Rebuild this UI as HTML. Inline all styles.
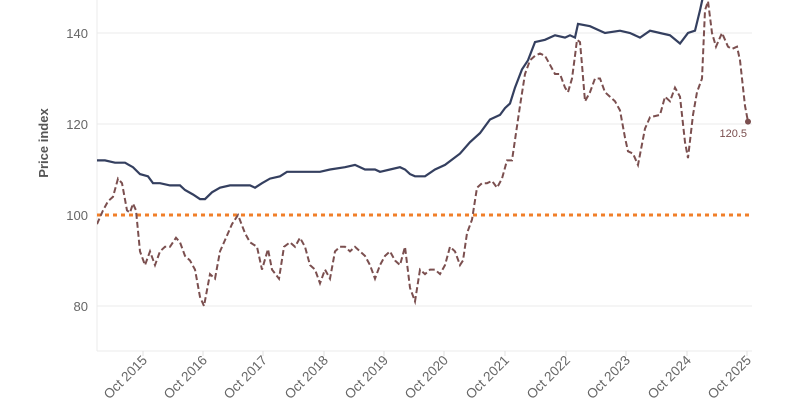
<!DOCTYPE html>
<html><head><meta charset="utf-8"><style>
html,body{margin:0;padding:0;background:#fff;width:800px;height:400px;overflow:hidden}
text{font-family:"Liberation Sans",sans-serif}
</style></head><body>
<svg id="s" width="800" height="400" viewBox="0 0 800 400">
<defs><clipPath id="c"><rect x="97" y="0" width="660" height="351"/></clipPath></defs>
<g stroke="#ebebeb" stroke-width="1">
<line x1="97" y1="33" x2="752" y2="33"/><line x1="97" y1="124" x2="752" y2="124"/>
<line x1="97" y1="306" x2="752" y2="306"/>
<line x1="97" y1="0" x2="97" y2="351"/><line x1="97" y1="351" x2="752" y2="351"/>
</g>
<g id="ticks" stroke="#e0e0e0"></g>
<g fill="#666" font-size="13" text-anchor="end">
<text x="88" y="38">140</text><text x="88" y="129">120</text><text x="88" y="220">100</text><text x="88" y="311">80</text>
</g>
<text transform="translate(48,143) rotate(-90)" text-anchor="middle" font-size="13" font-weight="bold" fill="#555">Price index</text>
<g id="xl" fill="#666" font-size="13.5" text-anchor="end"></g>
<line x1="97" y1="215" x2="752" y2="215" stroke="#f07f2a" stroke-width="3" stroke-dasharray="4,4"/>
<g clip-path="url(#c)">
<path id="blue" fill="none" stroke="#343f5f" stroke-width="2.2"/>
<path id="brown" fill="none" stroke="#7b4f4f" stroke-width="2" stroke-dasharray="6,3"/>
</g>
<circle cx="748" cy="121.6" r="3" fill="#7b4f4f"/>
<text x="747" y="137" text-anchor="end" font-size="11" fill="#7b4f4f">120.5</text>
</svg>
<script>
function Y(v){return 215-(v-100)*4.55}
function P(a){let d="";for(let i=0;i<a.length;i+=2)d+=(i?"L":"M")+a[i]+","+Y(a[i+1]).toFixed(1);return d}
var b=[97,112,105,112,115,111.5,125,111.5,133,110.5,140,109,148,108.5,153,107,160,107,170,106.5,180,106.5,185,105.5,193,104.5,200,103.5,205,103.5,212,105,220,106,230,106.5,240,106.5,250,106.5,255,106,262,107,270,108,280,108.5,287,109.5,295,109.5,305,109.5,320,109.5,330,110,345,110.5,355,111,365,110,375,110,380,109.5,390,110,400,110.5,405,110,410,109,415,108.5,425,108.5,435,110,445,111,460,113.5,470,116,480,118,490,121,500,122,505,123.5,510,124.5,515,128,522,132,528,134,535,138,545,138.5,555,139.5,565,139,570,139.5,575,139,578,142,590,141.5,600,140.5,605,140,620,140.5,630,140,640,139,650,140.5,660,140,670,139.5,680,137.7,688,140,695,140.5,700,145,705,150,710,156];
var r=[97,98,103,101,108,103,113,104,118,108,122,107,127,101,130,100.5,133,102.5,136,101,140,92,145,89,150,92,155,89,160,92,165,93,170,93,176,95,180,94,185,91,190,90,195,88,200,82,204,80,210,87,215,86,220,92,226,95,232,98,238,100,245,96,250,94,257,93,262,88,268,92.5,272,88,279,86,284,93,290,94,295,93,300,95,305,93,310,89,315,88,320,85,325,88,330,86,335,92,340,93,345,93,350,92,355,93,360,92,365,91,370,89,375,86,380,89,385,91,390,92,395,90,400,89,405,93,410,84,415,81,420,88,425,87,430,88,435,88,440,87,445,89,450,93,455,92,460,89,463,90,467,96,472,99,477,106,482,107,487,107,492,107.5,497,106,502,108,507,112,512,112,516,118,520,124,525,131,530,134,535,135,540,135.5,545,135,550,133,555,131,560,131,565,128,568,127,572,130,575,135,577,138.5,580,138,582,133,585,125,590,127,595,130,600,130,605,127,610,126,615,125,620,123,625,117,628,114,633,113.5,638,111,645,119,650,121.5,660,122,665,126,670,125,675,128,680,126,685,116,688,112.5,693,122,697,127,702,130,705,145,708,147,712,140,716,137,722,140,728,137,732,136.5,737,137,740,134,745,124,748,120.5];
document.getElementById("blue").setAttribute("d",P(b));
document.getElementById("brown").setAttribute("d",P(r));
var xs=[143,203,263,324,384,444,505,566,626,687,747],t="",l="";
for(var i=0;i<xs.length;i++){t+='<line x1="'+xs[i]+'" y1="351" x2="'+xs[i]+'" y2="356"/>';
l+='<text transform="translate('+(xs[i]+5)+',361) rotate(-45)">Oct '+(2015+i)+'</text>';}
document.getElementById("ticks").innerHTML=t;document.getElementById("xl").innerHTML=l;
</script>
</body></html>
